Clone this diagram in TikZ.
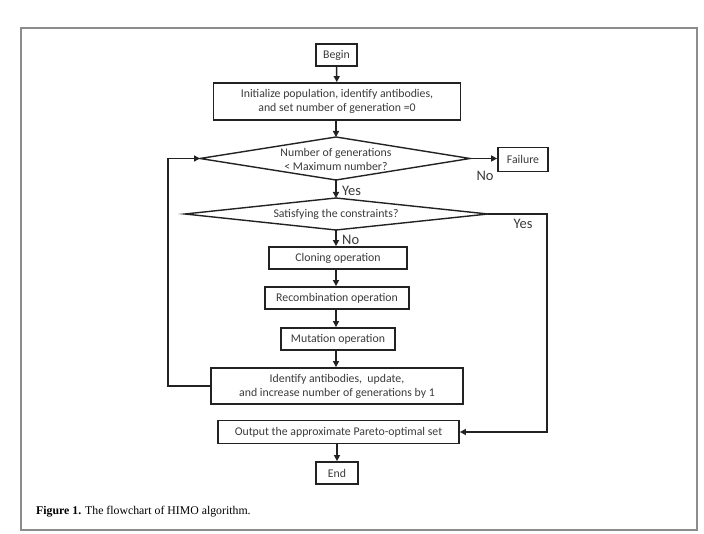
\documentclass[tikz,border=0pt]{standalone}
\usepackage{fontspec}
\setmainfont{Carlito}
\newfontfamily\capfont{Liberation Serif}
\usetikzlibrary{arrows.meta}
\definecolor{ink}{HTML}{222222}
\definecolor{txt}{HTML}{3A3A3A}
\definecolor{framegray}{HTML}{8C8C8C}
\begin{document}
\begin{tikzpicture}[x=1pt,y=-1pt,
  procbox/.style={draw=ink,line width=1.8pt,rectangle,inner sep=0pt,align=center,text=txt,font=\fontsize{11.8}{14}\selectfont},
  dtext/.style={inner sep=0pt,align=center,text=txt,font=\fontsize{11.8}{14}\selectfont},
  dline/.style={draw=ink,line width=1.4pt,line join=miter},
  flow/.style={draw=ink,line width=1.5pt,-{Triangle[length=6pt,width=6pt]}},
  lbl/.style={text=txt,font=\fontsize{14.5}{16}\selectfont,inner sep=0pt}]
\useasboundingbox (0,0) rectangle (704,534);
\draw[framegray,line width=1.8pt] (21,28) rectangle (697,530);
\node[procbox,minimum width=41pt,minimum height=22pt] (begin) at (336.5,55) {Begin};
\node[procbox,minimum width=247pt,minimum height=37pt] (init) at (337,101.5) {Initialize population, identify antibodies,\\and set number of generation =0};
% decision 1
\coordinate (d1l) at (200,158.5);
\coordinate (d1r) at (470,158.5);
\coordinate (d1t) at (336,137);
\coordinate (d1b) at (336,180);
\draw[dline] (d1l) -- (d1t) -- (d1r) -- (d1b) -- cycle;
\node[dtext] (d1) at (336,159.5) {Number of generations\\< Maximum number?};
\node[procbox,minimum width=50pt,minimum height=24pt] (fail) at (523,159.5) {Failure};
% decision 2
\coordinate (d2l) at (185,214);
\coordinate (d2r) at (488,214);
\coordinate (d2t) at (336,198);
\coordinate (d2b) at (336,230);
\draw[dline] (d2l) -- (d2t) -- (d2r) -- (d2b) -- cycle;
\node[dtext] (d2) at (336,214) {Satisfying the constraints?};
\node[procbox,minimum width=138pt,minimum height=22pt] (clone) at (338,258) {Cloning operation};
\node[procbox,minimum width=144pt,minimum height=22pt] (recomb) at (337,298) {Recombination operation};
\node[procbox,minimum width=114pt,minimum height=22pt] (mut) at (338,339) {Mutation operation};
\node[procbox,minimum width=252pt,minimum height=36pt] (ident) at (337,386) {Identify antibodies,\ \ update,\\and increase number of generations by 1};
\node[procbox,minimum width=241pt,minimum height=23pt] (out) at (338.5,432) {Output the approximate Pareto-optimal set};
\node[procbox,minimum width=42pt,minimum height=22pt] (end) at (337,473) {End};
\coordinate (loopA) at (168,386);
\coordinate (loopB) at (168,158.5);
\coordinate (yesA) at (547,214);
\coordinate (yesB) at (547,432);
\draw[flow] (begin) -- (init);
\draw[flow] (init.south -| d1t) -- (d1t);
\draw[flow] (d1b) -- (d2t);
\draw[flow] (d2b) -- (clone.north -| d2b);
\draw[flow] (clone.south -| d2b) -- (recomb.north -| d2b);
\draw[flow] (recomb.south -| d2b) -- (mut.north -| d2b);
\draw[flow] (mut.south -| d2b) -- (ident.north -| d2b);
\draw[flow] (out.south -| end.north) -- (end);
\draw[flow] (d1r) -- (fail.west |- d1r);
\draw[flow] (ident.west) -- (loopA) -- (loopB) -- (d1l);
\draw[flow] (d2r) -- (yesA) -- (yesB) -- (out.east);
\node[lbl,anchor=west] (yes1) at (342,191) {Yes};
\node[lbl,anchor=west] (no1) at (342,240) {No};
\node[lbl] (no2) at (485,176) {No};
\node[lbl] (yes2) at (523,224) {Yes};
\node[anchor=west,inner sep=0pt,font=\capfont\fontsize{11.8}{14}\selectfont,text=black] (cap) at (36,512) {\textbf{Figure 1.} The flowchart of HIMO algorithm.};
\end{tikzpicture}
\end{document}
